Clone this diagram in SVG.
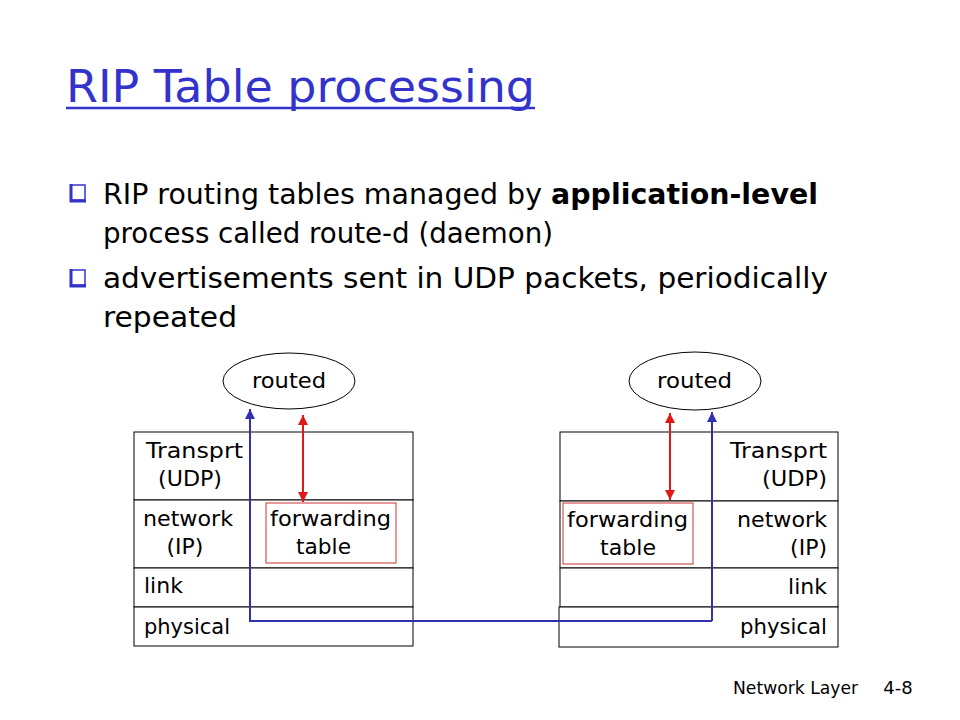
<svg xmlns="http://www.w3.org/2000/svg" width="960" height="720" viewBox="0 0 960 720">
<defs>
<style>
text{font-family:"DejaVu Sans","Liberation Sans",sans-serif;fill:#000}
.title{font-size:45px;fill:#3333cc}
.bul{font-size:28px}
.lbl{font-size:22px}
.foot{font-size:18px}
.box{fill:#fff;stroke:#000;stroke-width:1}
.ft{fill:none;stroke:#cc3333;stroke-width:1}
.ell{fill:#fff;stroke:#000;stroke-width:1}
.red{stroke:#e01818;stroke-width:2;fill:none}
.blue{stroke:#3030b0;stroke-width:2;fill:none}
.chk{fill:none;stroke:#3333cc;stroke-width:1.5}
.chk2{fill:none;stroke:#3333cc;stroke-width:3}
</style>
<marker id="ar" viewBox="0 0 10 10" refX="10" refY="5" markerWidth="5" markerHeight="5" orient="auto-start-reverse"><path d="M0,0 L10,5 L0,10 z" fill="#e01818"/></marker>
<marker id="ab" viewBox="0 0 10 10" refX="10" refY="5" markerWidth="5" markerHeight="5" orient="auto"><path d="M0,0 L10,5 L0,10 z" fill="#3030b0"/></marker>
</defs>
<g id="title">
<text class="title" x="66" y="102" textLength="469" lengthAdjust="spacingAndGlyphs">RIP Table processing</text>
<line x1="66" y1="108" x2="535" y2="108" stroke="#3333cc" stroke-width="2.5"/>
</g>
<g id="bullets">
<rect class="chk" x="71" y="185" width="14" height="15"/>
<path class="chk2" d="M71,184 L71,201 L86,201"/>
<text class="bul" x="103" y="204" textLength="715" lengthAdjust="spacingAndGlyphs">RIP routing tables managed by <tspan font-weight="bold">application-level</tspan></text>
<text class="bul" x="103" y="243" textLength="450" lengthAdjust="spacingAndGlyphs">process called route-d (daemon)</text>
<rect class="chk" x="71" y="270" width="14" height="15"/>
<path class="chk2" d="M71,269 L71,286 L86,286"/>
<text class="bul" x="103" y="288" textLength="725" lengthAdjust="spacingAndGlyphs">advertisements sent in UDP packets, periodically</text>
<text class="bul" x="103" y="327" textLength="134" lengthAdjust="spacingAndGlyphs">repeated</text>
</g>
<g id="left-stack">
<rect class="box" x="134" y="432" width="279" height="68"/>
<rect class="box" x="134" y="500" width="279" height="68"/>
<rect class="box" x="134" y="568" width="279" height="39"/>
<rect class="box" x="134" y="607" width="279" height="39"/>
<text class="lbl" x="146" y="458" textLength="97" lengthAdjust="spacingAndGlyphs">Transprt</text>
<text class="lbl" x="158" y="486" textLength="64" lengthAdjust="spacingAndGlyphs">(UDP)</text>
<text class="lbl" x="143" y="526" textLength="90" lengthAdjust="spacingAndGlyphs">network</text>
<text class="lbl" x="185" y="554" text-anchor="middle">(IP)</text>
<text class="lbl" x="144" y="593">link</text>
<text class="lbl" x="144" y="634" textLength="86" lengthAdjust="spacingAndGlyphs">physical</text>
</g>
<g id="left-table">
<rect class="ft" x="266" y="503" width="130" height="60"/>
<text class="lbl" x="270" y="526" textLength="121" lengthAdjust="spacingAndGlyphs">forwarding</text>
<text class="lbl" x="296" y="554" textLength="55" lengthAdjust="spacingAndGlyphs">table</text>
</g>
<g id="left-routed">
<ellipse class="ell" cx="289" cy="381" rx="66" ry="28"/>
<text class="lbl" x="252" y="388" textLength="74" lengthAdjust="spacingAndGlyphs">routed</text>
</g>
<g id="right-stack">
<rect class="box" x="560" y="432" width="278" height="69"/>
<rect class="box" x="560" y="501" width="278" height="67"/>
<rect class="box" x="560" y="568" width="278" height="39"/>
<rect class="box" x="559" y="607" width="279" height="40"/>
<text class="lbl" x="730" y="458" textLength="97" lengthAdjust="spacingAndGlyphs">Transprt</text>
<text class="lbl" x="762" y="486" textLength="65" lengthAdjust="spacingAndGlyphs">(UDP)</text>
<text class="lbl" x="737" y="527" textLength="90" lengthAdjust="spacingAndGlyphs">network</text>
<text class="lbl" x="827" y="555" text-anchor="end">(IP)</text>
<text class="lbl" x="827" y="594" text-anchor="end">link</text>
<text class="lbl" x="740" y="634" textLength="87" lengthAdjust="spacingAndGlyphs">physical</text>
</g>
<g id="right-table">
<rect class="ft" x="563" y="503" width="130" height="61"/>
<text class="lbl" x="567" y="527" textLength="121" lengthAdjust="spacingAndGlyphs">forwarding</text>
<text class="lbl" x="600" y="555" textLength="56" lengthAdjust="spacingAndGlyphs">table</text>
</g>
<g id="right-routed">
<ellipse class="ell" cx="695" cy="381" rx="66" ry="29"/>
<text class="lbl" x="657" y="388" textLength="75" lengthAdjust="spacingAndGlyphs">routed</text>
</g>
<g id="connectors">
<line class="red" x1="303" y1="415" x2="303" y2="502" marker-start="url(#ar)" marker-end="url(#ar)"/>
<line class="red" x1="670" y1="413" x2="670" y2="500" marker-start="url(#ar)" marker-end="url(#ar)"/>
<path class="blue" d="M712,621 L250,621 L250,409" marker-end="url(#ab)"/>
<path class="blue" d="M712,621 L712,412" marker-end="url(#ab)"/>
</g>
<g id="footer">
<text class="foot" x="733" y="694" textLength="125" lengthAdjust="spacingAndGlyphs">Network Layer</text>
<text class="foot" x="898" y="694" text-anchor="middle">4-8</text>
</g>
</svg>
